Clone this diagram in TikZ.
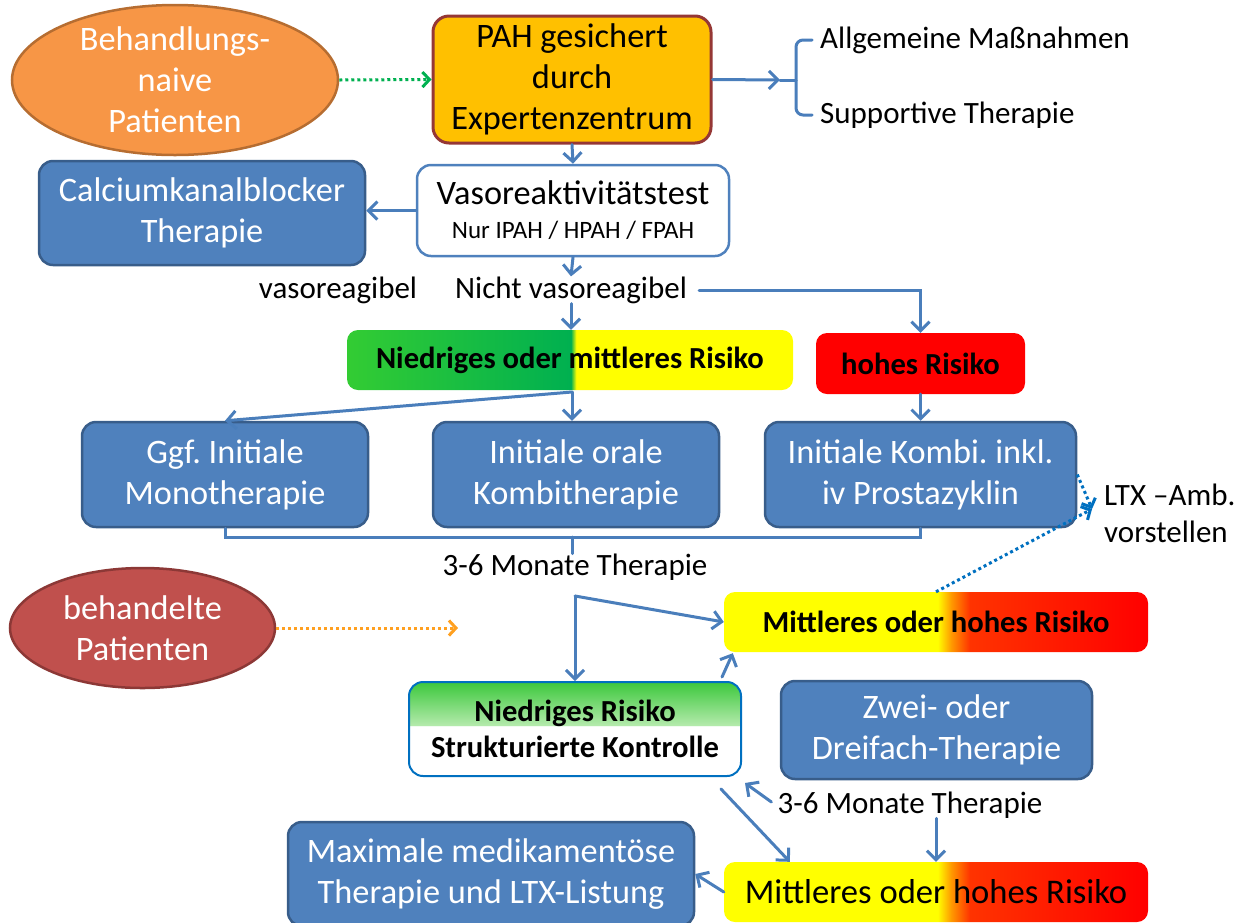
\documentclass[tikz,border=0pt]{standalone}
\usepackage{fontspec}
\setmainfont{Carlito}
\usetikzlibrary{arrows.meta,shapes.geometric,calc}

\definecolor{boxblue}{HTML}{4F81BD}
\definecolor{boxedge}{HTML}{385D8A}
\definecolor{linkblue}{HTML}{4A7EBB}
\definecolor{pahfill}{HTML}{FFC000}
\definecolor{pahedge}{HTML}{953735}
\definecolor{naivefill}{HTML}{F79646}
\definecolor{naiveedge}{HTML}{B66D31}
\definecolor{treatfill}{HTML}{C0504D}
\definecolor{treatedge}{HTML}{8C3836}
\definecolor{lightgreen}{HTML}{33CC33}
\definecolor{darkgreen}{HTML}{00B050}
\definecolor{topgreen}{HTML}{3CC83C}
\definecolor{palegreen}{HTML}{B4EAAC}
\definecolor{riskyellow}{HTML}{FFFF00}
\definecolor{riskred}{HTML}{FF0000}
\definecolor{riskamber}{HTML}{FF9900}
\definecolor{riskorange}{HTML}{FF3300}
\definecolor{ltxblue}{HTML}{0070C0}
\definecolor{dotorange}{HTML}{FFA020}

% the middle 50bp of each shading spans the shaded box
\pgfdeclarehorizontalshading{greenyellow}{100bp}{color(0bp)=(lightgreen); color(25bp)=(lightgreen);
  color(50.1bp)=(darkgreen); color(50.7bp)=(riskyellow); color(100bp)=(riskyellow)}
\pgfdeclarehorizontalshading{yellowred}{100bp}{color(0bp)=(riskyellow); color(50.2bp)=(riskyellow);
  color(51.8bp)=(riskamber); color(54bp)=(riskorange); color(75bp)=(riskred); color(100bp)=(riskred)}
\pgfdeclareverticalshading{greenwhite}{100bp}{color(0bp)=(white); color(51.6bp)=(white);
  color(51.8bp)=(palegreen); color(75bp)=(topgreen); color(100bp)=(topgreen)}

\newcommand\fsbig{\fontsize{34.3}{41}\selectfont}
\newcommand\fslabel{\fontsize{31}{37}\selectfont}
\newcommand\fssmall{\fontsize{25}{28}\selectfont}
\newcommand\fsrisk{\fontsize{30.6}{36}\selectfont\bfseries}

\tikzset{
  bluebox/.style={rectangle, rounded corners=14, fill=boxblue, draw=boxedge,
    line width=2.5, text=white, font=\fsbig, align=center, inner sep=0},
  whitebox/.style={rectangle, rounded corners=14, fill=white, draw=boxblue,
    line width=2.5, font=\fsbig, align=center, inner sep=0},
  patient/.style={ellipse, line width=2.5, text=white, font=\fsbig,
    align=center, inner sep=0},
  riskbox/.style={rectangle, rounded corners=11, font=\fsrisk, align=center, inner sep=0},
  lbl/.style={font=\fslabel, inner sep=0, align=center},
  link/.style={draw=linkblue, line width=3, line cap=round},
  arr/.style={link, -{Straight Barb[length=9pt,width=18pt,line width=3pt]}},
  dotarrow/.style={line width=3, dash pattern=on 3pt off 3pt,
    -{Straight Barb[length=7pt,width=15pt,line width=3pt]}}
}

\begin{document}
\frenchspacing
\begin{tikzpicture}[x=1pt,y=-1pt]
\useasboundingbox (0,0) rectangle (1244,922);

% entry points
\node[patient, fill=naivefill, draw=naiveedge, minimum width=326, minimum height=140]
  (naive) at (175,80) {Behandlungs-\\naive\\Patienten};
\node[patient, fill=treatfill, draw=treatedge, minimum width=265, minimum height=120]
  (treated) at (142.5,628) {behandelte\\Patienten};

% diagnosis and vasoreactivity
\node[rectangle, rounded corners=16, fill=pahfill, draw=pahedge, line width=3,
  font=\fsbig, align=center, inner sep=0, minimum width=278, minimum height=127]
  (pah) at (572,79.5) {PAH gesichert\\durch\\Expertenzentrum};
\node[lbl, anchor=west, align=left, inner xsep=8] (allg) at (812,40) {Allgemeine Maßnahmen};
\node[lbl, anchor=west, align=left, inner xsep=8] (supp) at (812,115) {Supportive Therapie};
\coordinate (brace) at (796,80);
\coordinate (bracetip) at (780,80);

\node[whitebox, minimum width=312, minimum height=91] (vaso) at (573,210.5)
  {Vasoreaktivitätstest\\[-7pt]{\fssmall Nur IPAH / HPAH / FPAH}};
\node[bluebox, minimum width=326, minimum height=104] (calcium) at (202,213)
  {Calciumkanalblocker\\Therapie};
\node[lbl] (vreag) at (338,290) {vasoreagibel};
\node[lbl, inner xsep=12] (nicht) at (571,290) {Nicht vasoreagibel};

% risk stratification
\node[riskbox, shade, shading=greenyellow, minimum width=446, minimum height=60]
  (niedmitt) at (570,360) {Niedriges oder mittleres Risiko};
\node[riskbox, fill=riskred, minimum width=209, minimum height=61] (hohes) at (920.5,363.5)
  {hohes Risiko};
\coordinate (split) at (572,392);

% initial therapy
\node[bluebox, minimum width=286, minimum height=105] (ggf) at (225,474.5)
  {Ggf. Initiale\\Monotherapie};
\node[bluebox, minimum width=286, minimum height=105] (orale) at (576,474.5)
  {Initiale orale\\Kombitherapie};
\node[bluebox, minimum width=311, minimum height=105] (kombi) at (920.5,474.5)
  {Initiale Kombi. inkl.\\iv Prostazyklin};
\coordinate (brk) at (572,537);
\node[lbl] (monate1) at (575,567) {3-6 Monate Therapie};
\node[lbl, anchor=west, align=left] (ltx) at (1104,513.5) {LTX –Amb.\\vorstellen};
\coordinate (ltxtip) at (1092,509);

% follow-up
\coordinate (fork) at (575,596);
\coordinate (treatedtip) at (458,628);
\node[riskbox, shade, shading=yellowred, minimum width=424, minimum height=60]
  (mittel1) at (936,622) {Mittleres oder hohes Risiko};
\node[rectangle, rounded corners=14, shade, shading=greenwhite, draw=ltxblue, line width=2,
  inner sep=0, align=center, font=\fontsize{30.6}{36}\selectfont\bfseries,
  minimum width=332, minimum height=94] (niedrig) at (575,729)
  {Niedriges Risiko\\Strukturierte Kontrolle};
\node[bluebox, minimum width=311, minimum height=98] (zwei) at (936.5,730)
  {Zwei- oder\\Dreifach-Therapie};
\node[lbl] (monate2) at (910,805) {3-6 Monate Therapie};
\node[riskbox, shade, shading=yellowred, font=\fontsize{34.6}{40}\selectfont,
  minimum width=424, minimum height=60] (mittel2) at (936,892) {Mittleres oder hohes Risiko};
\node[bluebox, minimum width=406, minimum height=104] (maximal) at (491,874)
  {Maximale medikamentöse\\Therapie und LTX-Listung};

% connectors
\draw[dotarrow, draw=darkgreen] (naive.east) -- (pah.west);
\draw[arr] (pah.east) -- (bracetip);
\draw[link, rounded corners=7] (allg.west) -| (brace) |- (supp.west);
\draw[link] (brace) -- (bracetip);
\draw[arr] (pah.south) -- (vaso.north);
\draw[arr] (vaso.west) -- (vaso.west -| calcium.east);
\draw[arr] (vaso.south) -- (nicht.north);
\draw[arr] (nicht.east) -| (hohes.north);
\draw[arr] (nicht.south) -- (nicht.south |- niedmitt.north);
\draw[arr] (split) -- (ggf.north);
\draw[arr] (split) -- (split |- orale.north);
\draw[arr] (hohes.south) -- (kombi.north);
\draw[link] (ggf.south) |- (brk) -| (kombi.south);
\draw[link] (brk) -- (monate1.north -| brk);
\draw[dotarrow, draw=dotorange] (treated.east) -- (treatedtip);
\draw[arr] (fork) -- (niedrig.north);
\draw[arr] (fork) -- (mittel1.west);
\draw[arr] ($(niedrig.north east)+(-20,-4)$) -- ($(mittel1.south west)+(9,1)$);
\draw[dotarrow, draw=ltxblue] (mittel1.north) -- (ltxtip);
\draw[dotarrow, draw=ltxblue] (kombi.east) -- (ltxtip);
\draw[arr] (monate2.south -| mittel2.north) -- (mittel2.north);
\draw[arr] ($(monate2.west)+(-6,-3)$) -- ($(niedrig.south east)+(3,6)$);
\draw[arr] ($(niedrig.south east)+(-21,12)$) -- ($(mittel2.north west)+(66,0)$);
\draw[arr] (mittel2.west) -- (maximal.east);
\end{tikzpicture}
\end{document}
